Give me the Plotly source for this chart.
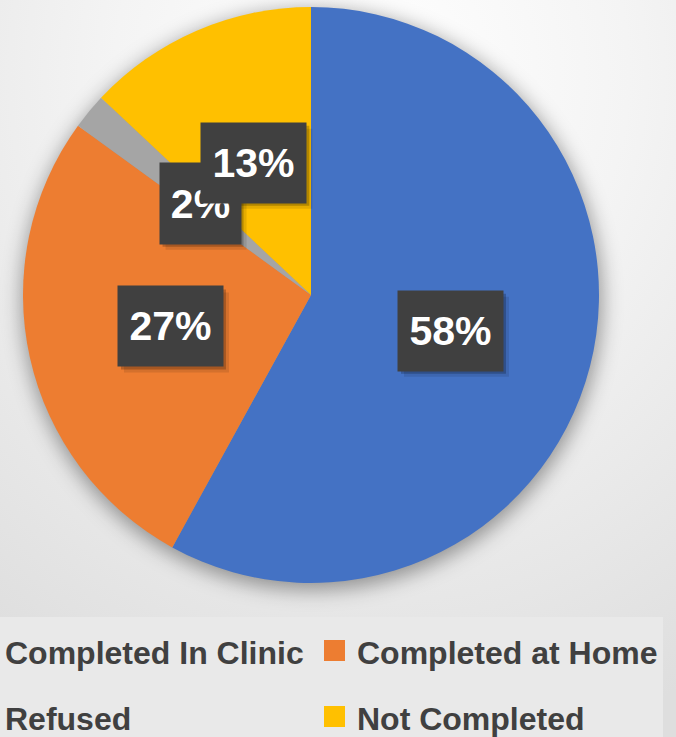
import math
import base64
import plotly.graph_objects as go

# ---- data ----
categories = ["Completed In Clinic", "Completed at Home", "Refused", "Not Completed"]
values = [58, 27, 2, 13]
pct_labels = ["58%", "27%", "2%", "13%"]
colors = ["#4472C4", "#ED7D31", "#A5A5A5", "#FFC000"]

# ---- geometry (pixels) ----
W, H = 676, 737
CX, CY, R = 311, 295, 288
LEG_TEXT_X = [3, 355]
LEG_ROW_Y = [653, 719]
LEG_BAND = (0, 617, 663, 737)


def px(x):
    return x / W


def py(y):
    return 1 - y / H


# background: soft radial gradient, legend band and pie shadow
svg = f'''<svg xmlns="http://www.w3.org/2000/svg" width="{W}" height="{H}" viewBox="0 0 {W} {H}">
<defs>
<radialGradient id="g" cx="0.55" cy="0.1" r="0.95">
<stop offset="0" stop-color="#ffffff"/>
<stop offset="0.4" stop-color="#f4f4f4"/>
<stop offset="1" stop-color="#dedede"/>
</radialGradient>
<filter id="b" x="-20%" y="-20%" width="140%" height="140%"><feGaussianBlur stdDeviation="10"/></filter>
</defs>
<rect width="{W}" height="{H}" fill="url(#g)"/>
<rect x="{LEG_BAND[0]}" y="{LEG_BAND[1]}" width="{LEG_BAND[2]-LEG_BAND[0]}" height="{LEG_BAND[3]-LEG_BAND[1]}" fill="#e9e9e9"/>
<circle cx="{CX+1}" cy="{CY+5}" r="{R+2}" fill="#000" fill-opacity="0.38" filter="url(#b)"/>
</svg>'''
bg_uri = "data:image/svg+xml;base64," + base64.b64encode(svg.encode()).decode()

fig = go.Figure(
    go.Pie(
        values=values,
        labels=categories,
        sort=False,
        direction="clockwise",
        rotation=0,
        marker=dict(colors=colors, line=dict(width=0)),
        textinfo="none",
        hoverinfo="label+percent",
        showlegend=False,
        domain=dict(x=[px(CX - R), px(CX + R)], y=[py(CY + R), py(CY - R)]),
    )
)

annotations = []
shapes = []

# data labels in dark boxes at half radius along each slice's mid angle
total = sum(values)
cum = 0
for v, lab in zip(values, pct_labels):
    theta = 2 * math.pi * (cum + v / 2) / total
    cum += v
    lx = CX + 0.5 * R * math.sin(theta)
    ly = CY - 0.5 * R * math.cos(theta)
    bw, bh = (105, 80) if len(lab) > 2 else (81, 81)
    # soft drop shadow
    for off, op in [(3, 0.22), (6, 0.10)]:
        shapes.append(dict(
            type="rect", xref="paper", yref="paper", layer="above",
            x0=px(lx - bw / 2 + off), x1=px(lx + bw / 2 + off),
            y0=py(ly + bh / 2 + off), y1=py(ly - bh / 2 + off),
            line=dict(width=0), fillcolor=f"rgba(0,0,0,{op})",
        ))
    annotations.append(dict(
        x=px(lx), y=py(ly), xref="paper", yref="paper",
        text=f"<b>{lab}</b>", showarrow=False,
        width=bw, height=bh, borderpad=0, bgcolor="#404040",
        font=dict(family="Liberation Sans, Arial, sans-serif", size=41, color="#ffffff"),
        xanchor="center", yanchor="middle", align="center", valign="middle",
    ))

# legend (two columns, two rows)
for i, (cat, col) in enumerate(zip(categories, colors)):
    tx = LEG_TEXT_X[i % 2]
    ty = LEG_ROW_Y[i // 2]
    annotations.append(dict(
        x=px(tx), y=py(ty), xref="paper", yref="paper",
        text=f"<b>{cat}</b>", showarrow=False,
        xanchor="left", yanchor="middle",
        font=dict(family="Liberation Sans, Arial, sans-serif", size=32, color="#404040"),
    ))
    shapes.append(dict(
        type="rect", xref="paper", yref="paper", layer="above",
        x0=px(tx - 31), x1=px(tx - 10),
        y0=py(ty + 8), y1=py(ty - 13),
        line=dict(width=0), fillcolor=col,
    ))

fig.update_layout(
    width=W, height=H,
    margin=dict(l=0, r=0, t=0, b=0),
    paper_bgcolor="#ececec",
    plot_bgcolor="rgba(0,0,0,0)",
    images=[dict(source=bg_uri, xref="paper", yref="paper", x=0, y=1,
                 sizex=1, sizey=1, xanchor="left", yanchor="top",
                 sizing="stretch", layer="below")],
    annotations=annotations,
    shapes=shapes,
)

fig.write_html(
    "out.html",
    config={"displayModeBar": False},
    post_script="document.body.style.margin='0';document.body.style.overflow='hidden';",
)
